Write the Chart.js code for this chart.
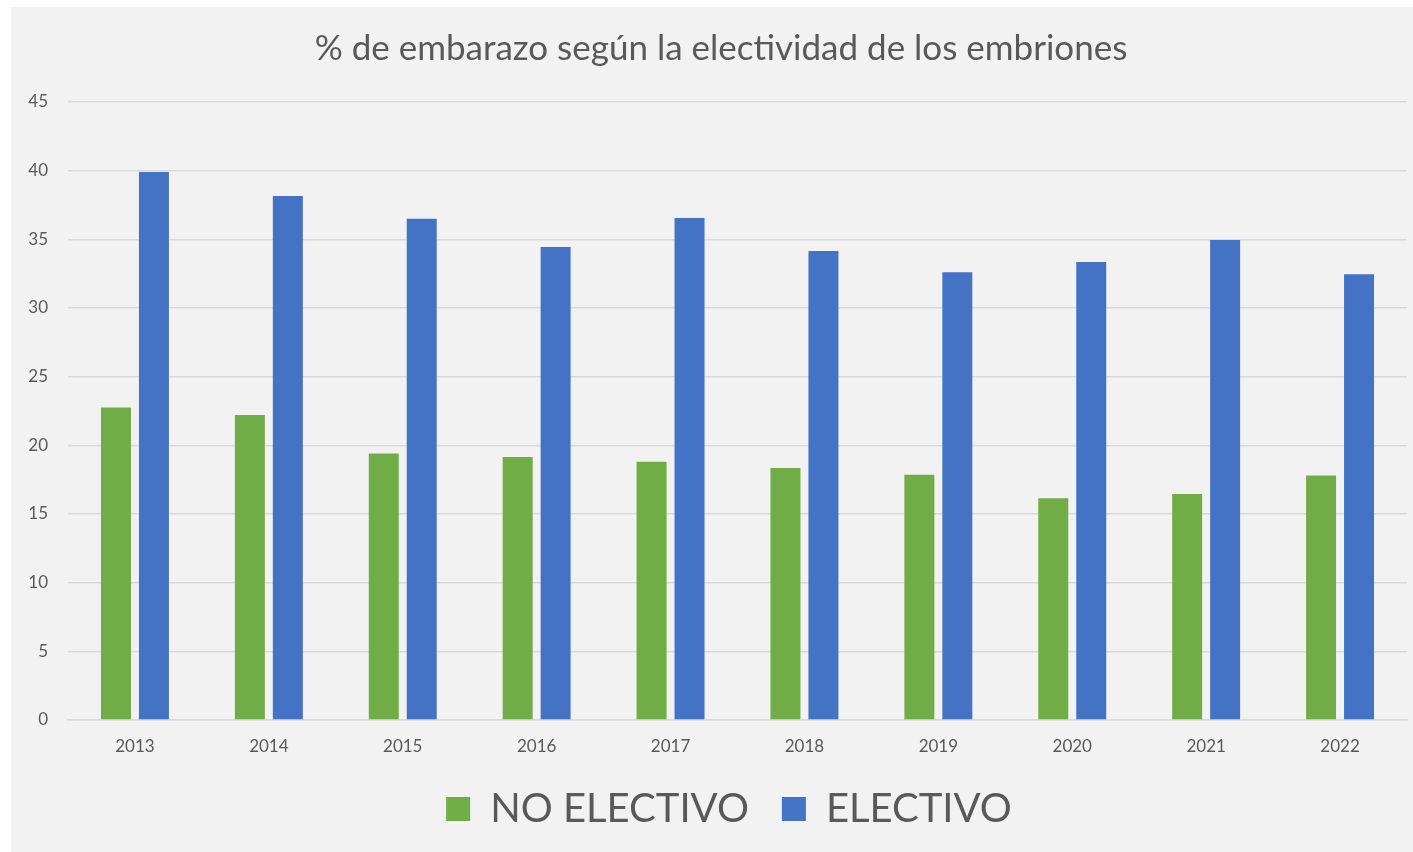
<!DOCTYPE html>
<html>
<head>
<meta charset="utf-8">
<script src="https://cdn.jsdelivr.net/npm/chart.js@4"></script>
<style>
  html, body { margin: 0; padding: 0; background: #ffffff; }
  #wrap { position: absolute; left: 11px; top: 7px; width: 1402px; height: 845px; background: #f2f2f2; }
</style>
</head>
<body>
<div id="wrap"><canvas id="grafico" width="1402" height="845"></canvas></div>
<script>
// datos
const anios = ['2013', '2014', '2015', '2016', '2017', '2018', '2019', '2020', '2021', '2022'];
const noElectivo = [22.75, 22.2, 19.4, 19.15, 18.8, 18.35, 17.85, 16.15, 16.45, 17.8];
const electivo = [39.9, 38.15, 36.5, 34.45, 36.55, 34.15, 32.6, 33.35, 34.95, 32.45];
const ticksY = [0, 5, 10, 15, 20, 25, 30, 35, 40, 45];

const fuente = 'Lato, "Open Sans", sans-serif';
const gris = '#595959';

// el título y la leyenda van un poco a la derecha, como en el original
const desplazar = {
    id: 'desplazar',
    afterLayout(chart) {
        chart.titleBlock.left += 12;
        chart.titleBlock.right += 12;
        chart.legend.left += 20;
        chart.legend.right += 20;
    }
};

const ctx = document.getElementById('grafico').getContext('2d');

new Chart(ctx, {
    type: 'bar',
    data: {
        labels: anios,
        datasets: [{
            label: 'NO ELECTIVO',
            data: noElectivo,
            backgroundColor: '#70ad47',
            borderWidth: 0
        }, {
            label: 'ELECTIVO',
            data: electivo,
            backgroundColor: '#4472c4',
            borderWidth: 0
        }]
    },
    options: {
        responsive: false,
        animation: false,
        categoryPercentage: 0.567,
        barPercentage: 0.79,
        layout: { padding: { left: 0, right: 6, top: 0, bottom: 13 } },
        scales: {
            y: {
                min: 0,
                max: 45,
                afterBuildTicks: (scale) => { scale.ticks = ticksY.map(v => ({ value: v })); },
                afterFit: (scale) => { scale.width = 57; },
                ticks: { color: gris, font: { family: fuente, size: 17 }, padding: 20 },
                grid: { color: '#d9d9d9', lineWidth: 1.5, drawTicks: false },
                border: { display: false }
            },
            x: {
                afterFit: (scale) => { scale.height = 36; },
                ticks: { color: gris, font: { family: fuente, size: 17 }, padding: 8 },
                grid: { display: false },
                border: { color: '#d9d9d9', width: 1.5 }
            }
        },
        plugins: {
            title: {
                display: true,
                text: '% de embarazo según la electividad de los embriones',
                color: gris,
                font: { family: fuente, size: 35, weight: 'normal' },
                padding: { top: 21, bottom: 32 }
            },
            legend: {
                position: 'bottom',
                labels: {
                    color: gris,
                    font: { family: fuente, size: 40 },
                    boxWidth: 24,
                    boxHeight: 24,
                    padding: 33
                }
            },
            tooltip: { enabled: false }
        }
    },
    plugins: [desplazar]
});
</script>
</body>
</html>
